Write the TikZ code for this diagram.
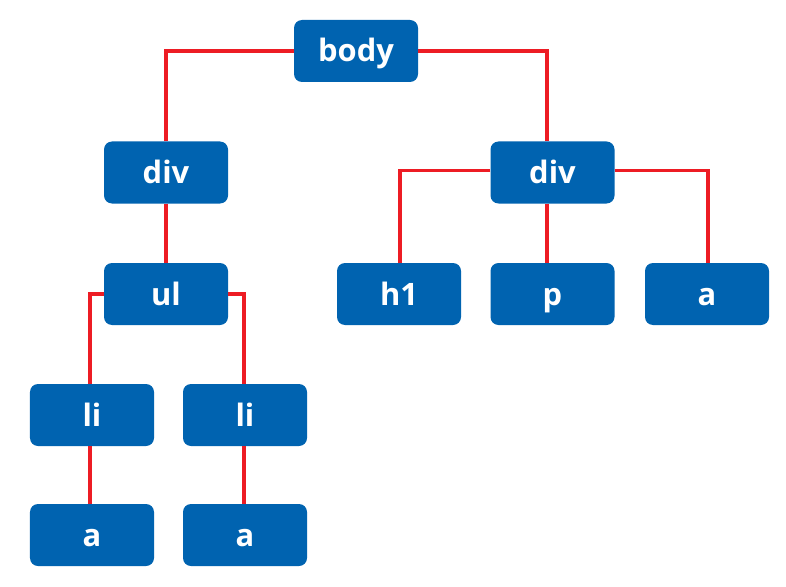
\documentclass[tikz,border=0pt]{standalone}
\usepackage{fontspec}
\setmainfont{Open Sans}
\usetikzlibrary{arrows.meta}
\usetikzlibrary{shapes, positioning}

\definecolor{tagblue}{RGB}{0,99,176}
\definecolor{linkred}{RGB}{237,28,36}

\tikzset{
  tag/.style={fill=tagblue,text=white,rounded corners=8bp,minimum width=124bp,minimum height=62bp,inner sep=0pt,text height=22bp,text depth=0bp,font=\fontsize{31}{31}\selectfont\bfseries},
  link/.style={draw=linkred,line width=3.2bp},
}

\begin{document}
\begin{tikzpicture}[x=1bp,y=-1bp,line join=miter,]
\useasboundingbox (0,0) rectangle (786,587);
%%
\node (node_0) at (356,51) [tag] {body};
  \node (node_1) at (166,172.5) [tag] {div};
  \node (node_5) at (552.5,172.5) [tag] {div};
  \node (node_2) at (166,294) [tag] {ul};
  \node (node_6) at (399,294) [tag] {h1};
  \node (node_7) at (552.5,294) [tag] {p};
  \node (node_8) at (707,294) [tag] {a};
  \node (node_3) at (92,415) [tag] {li};
  \node (node_4) at (245,415) [tag] {li};
  \node (node_9) at (92,535) [tag] {a};
  \node (node_10) at (245,535) [tag] {a};
  \draw [link] (node_0.west) -| (node_1.north);
  \draw [link] (node_0.east) -| ([xshift=-5.5bp]node_5.north);
  \draw [link] (node_1) -- (node_2);
  \draw [link] (node_2.west) -| ([xshift=-2bp]node_3.north);
  \draw [link] (node_2.east) -| ([xshift=-1bp]node_4.north);
  \draw [link] ([xshift=-2bp]node_3.south) -- ([xshift=-2bp]node_9.north);
  \draw [link] ([xshift=-1bp]node_4.south) -- ([xshift=-1bp]node_10.north);
  \draw [link] ([yshift=2bp]node_5.west) -| ([xshift=1bp]node_6.north);
  \draw [link] ([xshift=-5.5bp]node_5.south) -- ([xshift=-5.5bp]node_7.north);
  \draw [link] ([yshift=2bp]node_5.east) -| ([xshift=1bp]node_8.north);
%
\end{tikzpicture}
\end{document}
